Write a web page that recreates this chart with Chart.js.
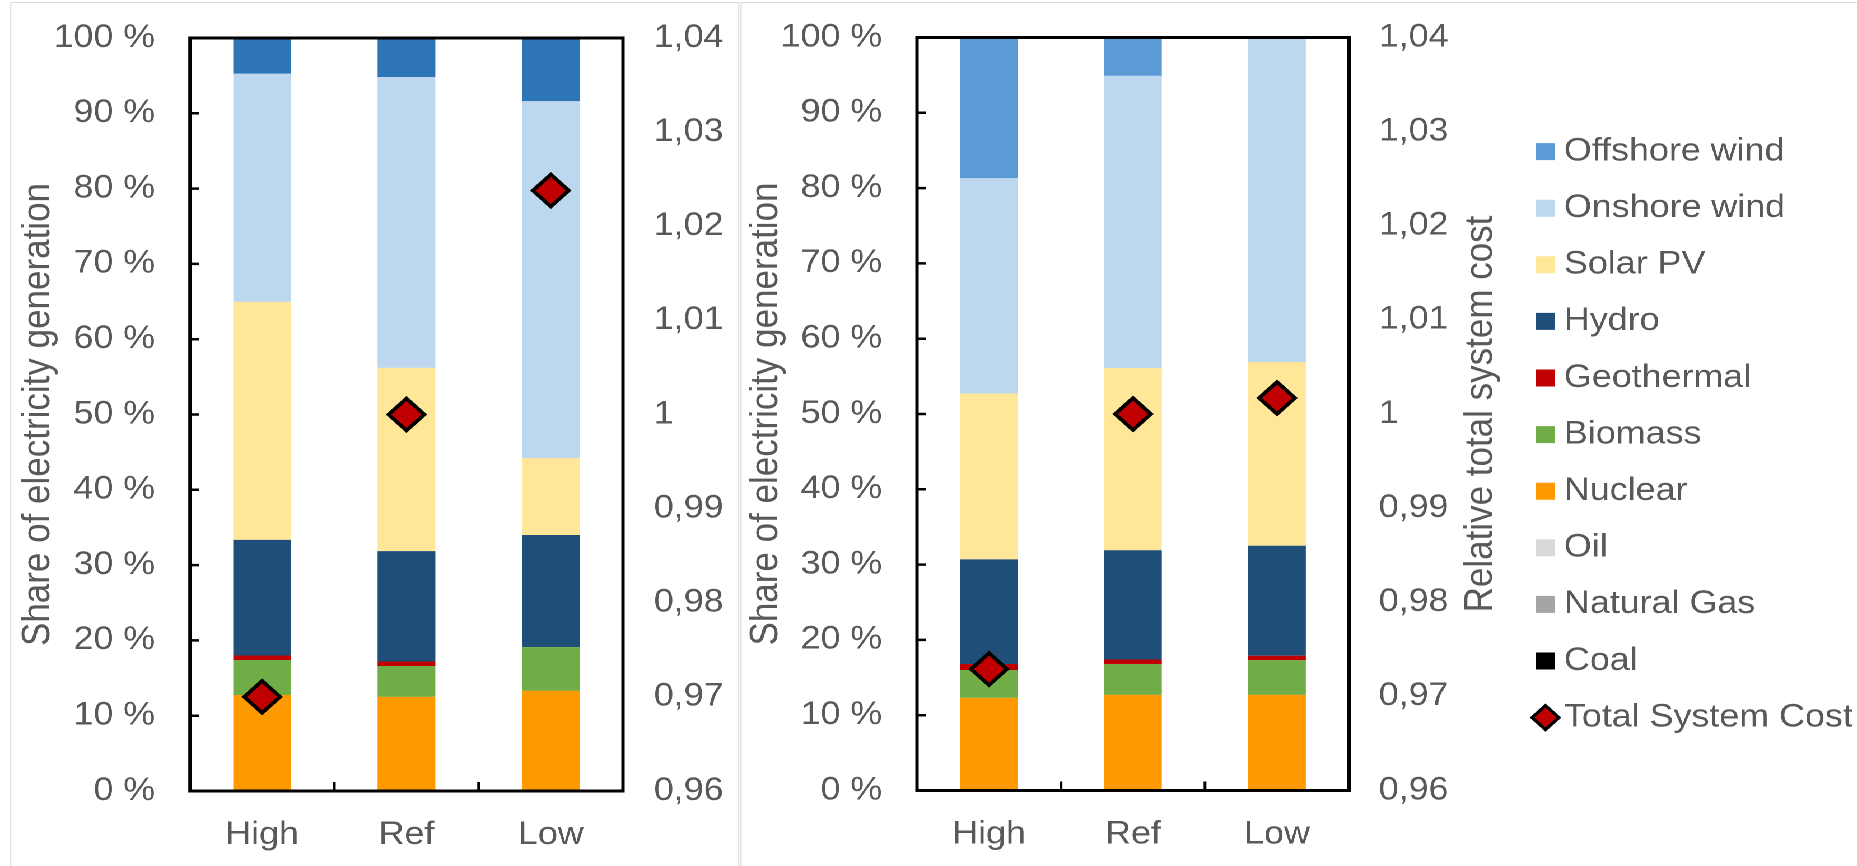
<!DOCTYPE html>
<html>
<head>
<meta charset="utf-8">
<script src="https://cdn.jsdelivr.net/npm/chart.js@4.4.1/dist/chart.umd.min.js"></script>
<style>
html,body{margin:0;padding:0;background:#fff;overflow:hidden;width:1857px;height:866px;}
#stage{position:absolute;left:0;top:0;width:1658px;height:866px;transform:scaleX(1.12);transform-origin:0 0;}
#c1{position:absolute;left:0;top:0;}
#c2{position:absolute;left:661px;top:0;}
.panel{position:absolute;border:1.6px solid #D9D9D9;box-sizing:border-box;}
</style>
</head>
<body>
<div id="stage">
  <div class="panel" style="left:8.9px;top:2px;width:651px;height:900px"></div>
  <div class="panel" style="left:661.4px;top:1.5px;width:1100px;height:900px"></div>
  <canvas id="c1" width="661" height="866"></canvas>
  <canvas id="c2" width="997" height="866"></canvas>
</div>
<script>
// ---------- data ----------
const categories = ['High', 'Ref', 'Low'];
const technologies = ['Coal', 'Natural Gas', 'Oil', 'Nuclear', 'Biomass', 'Geothermal', 'Hydro', 'Solar PV', 'Onshore wind', 'Offshore wind'];
const costLabel = 'Total System Cost';

const shareTicks = [0, 10, 20, 30, 40, 50, 60, 70, 80, 90, 100];
const shareTickLabels = ['0 %', '10 %', '20 %', '30 %', '40 %', '50 %', '60 %', '70 %', '80 %', '90 %', '100 %'];
const costTicks = [0.96, 0.97, 0.98, 0.99, 1.00, 1.01, 1.02, 1.03, 1.04];
const costTickLabels = ['0,96', '0,97', '0,98', '0,99', '1', '1,01', '1,02', '1,03', '1,04'];

// left chart (% of generation)
const leftCoal = [0, 0, 0];
const leftGas = [0, 0, 0];
const leftOil = [0, 0, 0];
const leftNuclear = [12.75, 12.5, 13.3];
const leftBiomass = [4.65, 4.1, 5.8];
const leftGeothermal = [0.6, 0.6, 0];
const leftHydro = [15.35, 14.65, 14.9];
const leftSolar = [31.6, 24.35, 10.2];
const leftOnshore = [30.3, 38.6, 47.4];
const leftOffshore = [4.8, 5.2, 8.4];
const leftCost = [0.970, 1.000, 1.0238];

// right chart (% of generation)
const rightCoal = [0, 0, 0];
const rightGas = [0, 0, 0];
const rightOil = [0, 0, 0];
const rightNuclear = [12.3, 12.7, 12.7];
const rightBiomass = [3.7, 4.1, 4.6];
const rightGeothermal = [0.8, 0.6, 0.6];
const rightHydro = [13.9, 14.5, 14.6];
const rightSolar = [22.0, 24.2, 24.4];
const rightOnshore = [28.6, 38.8, 43.1];
const rightOffshore = [18.7, 5.1, 0];
const rightCost = [0.9729, 1.000, 1.0017];

// ---------- styles ----------
const FONT = '"Liberation Sans", Arial, sans-serif';
const TEXT = '#595959';
Chart.defaults.font.family = FONT;
Chart.defaults.color = TEXT;

const baseColors = {
  'Coal': '#000000', 'Natural Gas': '#A5A5A5', 'Oil': '#D9D9D9', 'Nuclear': '#FF9900',
  'Biomass': '#70AD47', 'Geothermal': '#C00000', 'Hydro': '#1F4E79', 'Solar PV': '#FFE699',
  'Onshore wind': '#BDD7EE', 'Offshore wind': '#5B9BD5'
};
const leftColors = Object.assign({}, baseColors, {'Offshore wind': '#2E75B6'});
const costFill = '#C00000';

function buildDatasets(values, colors, cost) {
  const ds = technologies.map((t, i) => ({
    type: 'bar', label: t, data: values[i], backgroundColor: colors[t], borderWidth: 0,
    barPercentage: 0.4, categoryPercentage: 1.0, order: 1, yAxisID: 'y'
  }));
  ds.push({
    type: 'line', label: costLabel, data: cost, yAxisID: 'y1', showLine: false, order: 0,
    pointStyle: 'rectRot', pointRadius: 16, pointHoverRadius: 16,
    pointBackgroundColor: costFill, pointBorderColor: '#000000', pointBorderWidth: 3.5,
    backgroundColor: costFill, borderColor: '#000000'
  });
  return ds;
}

const frame = {
  id: 'frame',
  afterDatasetsDraw(chart) {
    const {ctx, chartArea: a, scales} = chart;
    ctx.save();
    ctx.strokeStyle = '#000000';
    ctx.lineWidth = 2.5;
    ctx.beginPath();
    shareTicks.forEach(v => {
      if (v > shareTicks[0] && v < shareTicks[shareTicks.length - 1]) {
        const y = scales.y.getPixelForValue(v);
        ctx.moveTo(a.left, y); ctx.lineTo(a.left + 8, y);
      }
    });
    for (let i = 0; i < categories.length - 1; i++) {
      const x = (scales.x.getPixelForTick(i) + scales.x.getPixelForTick(i + 1)) / 2;
      ctx.moveTo(x, a.bottom); ctx.lineTo(x, a.bottom - 9);
    }
    ctx.stroke();
    ctx.lineWidth = 3;
    ctx.strokeRect(a.left, a.top, a.right - a.left, a.bottom - a.top);
    ctx.restore();
  }
};

function makeOptions(cfg) {
  return {
    responsive: false, animation: false, devicePixelRatio: 2, events: [],
    layout: {padding: {top: cfg.top, left: 0, right: 0, bottom: 0}},
    plugins: {
      tooltip: {enabled: false},
      legend: cfg.legend
    },
    scales: {
      x: {
        stacked: true,
        grid: {display: false, drawTicks: true, tickLength: 25}, border: {display: false},
        ticks: {color: TEXT, font: {size: 32, family: FONT}, padding: 0, maxRotation: 0, autoSkip: false},
        afterFit: s => { s.height = cfg.xHeight; }
      },
      y: {
        stacked: true, position: 'left', min: 0, max: 100,
        grid: {display: false, drawTicks: true, tickLength: 31}, border: {display: false},
        afterBuildTicks: s => { s.ticks = shareTicks.map(v => ({value: v})); },
        ticks: {color: TEXT, font: {size: 32, family: FONT}, padding: 0, callback: (v, i) => shareTickLabels[i]},
        title: {display: true, text: 'Share of electricity generation', color: TEXT,
                font: {size: 35, family: FONT}, padding: {top: cfg.titlePad, bottom: 0}},
        afterFit: s => { s.width = cfg.yWidth; }
      },
      y1: {
        position: 'right', min: 0.96, max: 1.04,
        grid: {display: false, drawTicks: true, tickLength: cfg.y1Pad}, border: {display: false},
        afterBuildTicks: s => { s.ticks = costTicks.map(v => ({value: v})); },
        ticks: {color: TEXT, font: {size: 32, family: FONT}, padding: 0, callback: (v, i) => costTickLabels[i]},
        afterFit: s => { s.width = cfg.y1Width; }
      }
    }
  };
}

// left chart
new Chart(document.getElementById('c1'), {
  type: 'bar',
  data: {
    labels: categories,
    datasets: buildDatasets([leftCoal, leftGas, leftOil, leftNuclear, leftBiomass, leftGeothermal, leftHydro, leftSolar, leftOnshore, leftOffshore], leftColors, leftCost)
  },
  options: makeOptions({top: 38, xHeight: 75, yWidth: 169.6, y1Width: 104.75, y1Pad: 27.5, titlePad: 13.2, legend: {display: false}}),
  plugins: [frame]
});

// right chart
const LEGEND_W = 303.2;
const legendOrder = ['Offshore wind', 'Onshore wind', 'Solar PV', 'Hydro', 'Geothermal', 'Biomass', 'Nuclear', 'Oil', 'Natural Gas', 'Coal', costLabel];
const legendWidth = {
  id: 'legendWidth',
  beforeUpdate(chart) {
    const lg = chart.legend;
    if (lg && !lg._fixedW) {
      const f = lg.fit;
      lg.fit = function () { f.call(this); this.width = LEGEND_W; };
      lg._fixedW = true;
    }
  }
};
const rightTitle = {
  id: 'rightTitle',
  afterDraw(chart) {
    const {ctx, chartArea: a} = chart;
    ctx.save();
    ctx.translate(661.5, (a.top + a.bottom) / 2);
    ctx.rotate(-Math.PI / 2);
    ctx.font = '35px ' + FONT;
    ctx.fillStyle = TEXT;
    ctx.textAlign = 'center';
    ctx.textBaseline = 'middle';
    ctx.fillText('Relative total system cost', 0, 0);
    ctx.restore();
  }
};

new Chart(document.getElementById('c2'), {
  type: 'bar',
  data: {
    labels: categories,
    datasets: buildDatasets([rightCoal, rightGas, rightOil, rightNuclear, rightBiomass, rightGeothermal, rightHydro, rightSolar, rightOnshore, rightOffshore], baseColors, rightCost)
  },
  options: makeOptions({
    top: 37.5, xHeight: 75.5, yWidth: 157.75, y1Width: 150.3, y1Pad: 26.5, titlePad: 2.2,
    legend: {
      display: true, position: 'right', align: 'start',
      title: {display: true, text: '', font: {size: 10}, padding: {top: 61.5, bottom: 0}},
      labels: {
        color: TEXT, font: {size: 32, family: FONT}, boxWidth: 1, boxHeight: 17, padding: 24.6, usePointStyle: true,
        generateLabels(chart) {
          const dsets = chart.data.datasets;
          return legendOrder.map(name => {
            const i = dsets.findIndex(d => d.label === name);
            const d = dsets[i];
            const isCost = d.type === 'line';
            return {
              text: name, datasetIndex: i, hidden: false, rotation: 0,
              fillStyle: isCost ? costFill : d.backgroundColor,
              strokeStyle: '#000000', lineWidth: isCost ? 3 : 0,
              pointStyle: isCost ? 'rectRot' : 'rect', fontColor: TEXT
            };
          });
        }
      }
    }
  }),
  plugins: [frame, legendWidth, rightTitle]
});
</script>
</body>
</html>
